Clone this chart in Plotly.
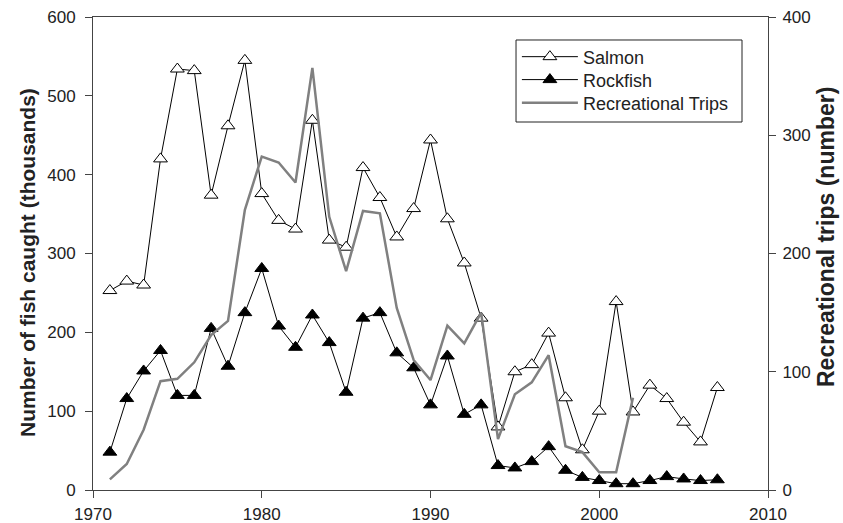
import plotly.graph_objects as go

years = list(range(1971, 2008))
salmon = [253, 265, 260, 420, 534, 532, 374, 462, 545, 376, 342, 331, 469, 317, 308,
          409, 371, 321, 357, 444, 344, 288, 218, 80, 150, 159, 199, 117, 51, 100,
          239, 99, 133, 116, 86, 61, 130]
rockfish = [48, 116, 151, 177, 120, 120, 205, 157, 225, 281, 208, 181, 222, 187, 124,
            218, 225, 174, 155, 108, 170, 96, 108, 31, 28, 36, 55, 25, 16, 12,
            8, 8, 12, 17, 14, 12, 13]
trip_years = list(range(1971, 2003))
trips = [9, 22, 51, 92, 94, 108, 131, 143, 237, 282, 277, 260, 357, 231, 185,
         236, 234, 154, 110, 93, 139, 124, 150, 43, 81, 91, 114, 37, 32, 15,
         15, 78]

FONT = "Liberation Sans, Arial, sans-serif"

fig = go.Figure()
fig.add_trace(go.Scatter(
    x=trip_years, y=trips, name="Recreational Trips", yaxis="y2",
    mode="lines", line=dict(color="#808080", width=2.5), legend="legend3"))
fig.add_trace(go.Scatter(
    x=years, y=salmon, name="Salmon", mode="lines+markers",
    line=dict(color="black", width=1),
    marker=dict(symbol="triangle-up", size=12, color="white",
                line=dict(color="black", width=1)), legend="legend"))
fig.add_trace(go.Scatter(
    x=years, y=rockfish, name="Rockfish", mode="lines+markers",
    line=dict(color="black", width=1),
    marker=dict(symbol="triangle-up", size=12, color="black",
                line=dict(color="black", width=1)), legend="legend2"))

axis_common = dict(showgrid=False, zeroline=False, linecolor="#444", linewidth=1,
                   ticks="outside", ticklen=7, tickcolor="#444", automargin=False,
                   tickfont=dict(family=FONT, size=17, color="#222"))


def leg(y):
    return dict(x=0.628, y=y, xanchor="left", yanchor="middle",
                bgcolor="rgba(0,0,0,0)", borderwidth=0,
                font=dict(family=FONT, size=18, color="#222"),
                tracegroupgap=0, itemwidth=56)


fig.update_layout(
    width=843, height=523,
    margin=dict(l=93, r=75, t=17, b=33, autoexpand=False),
    paper_bgcolor="white", plot_bgcolor="white",
    font=dict(family=FONT, color="#222"),
    showlegend=True,
    legend=leg(0.9155), legend2=leg(0.867), legend3=leg(0.818),
    shapes=[dict(type="rect", xref="paper", yref="paper",
                 x0=0.6267, x1=0.9615, y0=0.778, y1=0.9514,
                 line=dict(color="#222", width=1), fillcolor="white", layer="below")],
    xaxis=dict(range=[1970, 2010], tickvals=[1970, 1980, 1990, 2000, 2010],
               mirror=True, ticklabelstandoff=2, **axis_common),
    yaxis=dict(range=[0, 600], tickvals=[0, 100, 200, 300, 400, 500, 600],
               ticklabelstandoff=6, **axis_common),
    yaxis2=dict(range=[0, 400], tickvals=[0, 100, 200, 300, 400],
                overlaying="y", side="right", ticklabelstandoff=3, **axis_common),
    annotations=[
        dict(text="<b>Number of fish caught (thousands)</b>", xref="paper", yref="paper",
             x=-0.0978, y=0.482, xanchor="center", yanchor="middle", textangle=-90,
             showarrow=False, font=dict(family=FONT, size=21, color="#222")),
        dict(text="<b>Recreational trips (number)</b>", xref="paper", yref="paper",
             x=1.086, y=0.535, xanchor="center", yanchor="middle", textangle=-90,
             showarrow=False, font=dict(family=FONT, size=23, color="#222")),
    ],
)

fig.write_html("out.html", config={"displayModeBar": False},
               post_script="document.body.style.margin='0';")
